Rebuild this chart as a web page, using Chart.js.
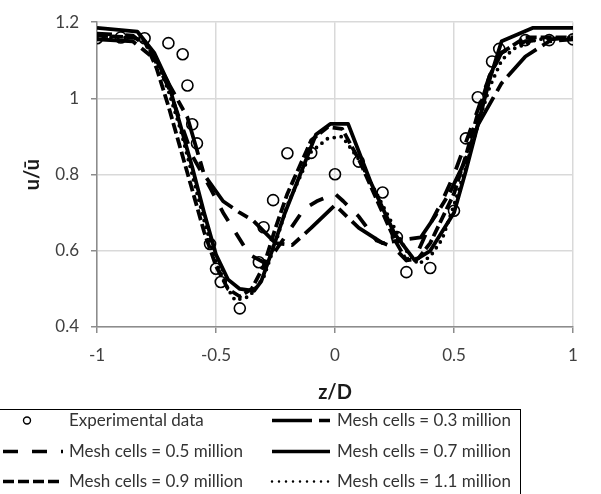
<!DOCTYPE html>
<html>
<head>
<meta charset="utf-8">
<script src="https://cdn.jsdelivr.net/npm/chart.js@4.4.1/dist/chart.umd.min.js"></script>
<style>
  html, body { margin: 0; padding: 0; background: white; }
  canvas { display: block; }
</style>
</head>
<body>
<canvas id="chart" width="601" height="494"></canvas>
<script>
'use strict';

// experimental profile
const expX = [-1, -0.9, -0.8, -0.7, -0.64, -0.62, -0.6, -0.58, -0.525, -0.5, -0.48, -0.4, -0.32, -0.3, -0.26, -0.2, -0.1, 0, 0.1, 0.2, 0.26, 0.3, 0.4, 0.5, 0.55, 0.6, 0.66, 0.69, 0.8, 0.9, 1];
const expY = [1.158, 1.16, 1.158, 1.145, 1.116, 1.034, 0.932, 0.882, 0.618, 0.553, 0.518, 0.449, 0.57, 0.662, 0.733, 0.856, 0.857, 0.801, 0.834, 0.753, 0.636, 0.544, 0.555, 0.705, 0.895, 1.003, 1.097, 1.13, 1.153, 1.153, 1.155];

// CFD profiles, one per mesh
const mesh03X = [-1, -0.85, -0.75, -0.7, -0.62, -0.55, -0.47, -0.4, -0.345, -0.25, -0.18, -0.1, 0, 0.1, 0.2, 0.3, 0.36, 0.42, 0.48, 0.55, 0.6, 0.7, 0.8, 0.9, 1];
const mesh03Y = [1.155, 1.15, 1.1, 1.04, 0.95, 0.8, 0.73, 0.7, 0.68, 0.62, 0.615, 0.66, 0.72, 0.66, 0.62, 0.63, 0.635, 0.69, 0.75, 0.84, 0.93, 1.04, 1.11, 1.15, 1.155];

const mesh05X = [-1, -0.85, -0.78, -0.7, -0.6, -0.52, -0.47, -0.36, -0.3, -0.25, -0.13, -0.077, 0, 0.035, 0.1, 0.175, 0.245, 0.3, 0.35, 0.4, 0.45, 0.5, 0.6, 0.65, 0.7, 0.8, 1];
const mesh05Y = [1.17, 1.165, 1.13, 1.03, 0.85, 0.76, 0.7, 0.59, 0.57, 0.6, 0.71, 0.73, 0.75, 0.73, 0.69, 0.627, 0.61, 0.575, 0.6, 0.67, 0.73, 0.8, 0.97, 1.06, 1.12, 1.15, 1.16];

const mesh07X = [-1, -0.83, -0.76, -0.7, -0.65, -0.6, -0.55, -0.5, -0.45, -0.4, -0.34, -0.31, -0.27, -0.21, -0.08, -0.02, 0.055, 0.15, 0.25, 0.335, 0.4, 0.5, 0.55, 0.6, 0.65, 0.7, 0.83, 1];
const mesh07Y = [1.185, 1.175, 1.12, 1.04, 0.93, 0.82, 0.7, 0.59, 0.525, 0.5, 0.495, 0.52, 0.59, 0.7, 0.905, 0.933, 0.933, 0.78, 0.645, 0.575, 0.6, 0.7, 0.81, 0.93, 1.05, 1.15, 1.185, 1.185];

const mesh09X = [-1, -0.85, -0.8, -0.75, -0.7, -0.65, -0.6, -0.55, -0.5, -0.45, -0.4, -0.35, -0.3, -0.25, -0.2, -0.1, -0.03, 0.03, 0.1, 0.2, 0.25, 0.3, 0.35, 0.4, 0.5, 0.55, 0.6, 0.65, 0.7, 0.8, 1];
const mesh09Y = [1.165, 1.16, 1.15, 1.08, 0.98, 0.87, 0.76, 0.65, 0.56, 0.5, 0.48, 0.5, 0.56, 0.66, 0.75, 0.89, 0.925, 0.92, 0.84, 0.7, 0.63, 0.575, 0.58, 0.62, 0.75, 0.85, 0.96, 1.06, 1.12, 1.16, 1.16];

const mesh11X = [-1, -0.85, -0.8, -0.75, -0.7, -0.65, -0.6, -0.55, -0.5, -0.45, -0.42, -0.36, -0.3, -0.25, -0.2, -0.1, -0.03, 0.03, 0.1, 0.2, 0.3, 0.35, 0.4, 0.45, 0.5, 0.55, 0.6, 0.65, 0.7, 0.75, 0.85, 1];
const mesh11Y = [1.16, 1.16, 1.15, 1.1, 1.02, 0.92, 0.8, 0.68, 0.57, 0.5, 0.47, 0.48, 0.53, 0.62, 0.72, 0.86, 0.895, 0.9, 0.84, 0.72, 0.6, 0.565, 0.585, 0.63, 0.72, 0.82, 0.93, 1.03, 1.1, 1.13, 1.155, 1.16];

const xTicks = [-1, -0.5, 0, 0.5, 1];
const yTicks = [0.4, 0.6, 0.8, 1, 1.2];

const FONT = 'Lato';

function toPoints(xs, ys) {
  return xs.map((x, i) => ({x: x, y: ys[i]}));
}

function meshLine(label, xs, ys, dash, cap) {
  return {
    label: label,
    data: toPoints(xs, ys),
    showLine: true,
    borderColor: '#000',
    backgroundColor: '#000',
    borderWidth: 3.8,
    borderDash: dash,
    borderCapStyle: cap || 'butt',
    borderJoinStyle: 'round',
    pointRadius: 0,
    tension: 0
  };
}

const datasets = [
  {
    label: 'Experimental data',
    data: toPoints(expX, expY),
    showLine: false,
    pointStyle: 'circle',
    pointRadius: 5.5,
    pointBorderWidth: 1.6,
    pointBorderColor: '#000',
    pointBackgroundColor: 'rgba(0,0,0,0)'
  },
  meshLine('Mesh cells = 0.3 million', mesh03X, mesh03Y, [40, 7, 11, 7]),
  meshLine('Mesh cells = 0.5 million', mesh05X, mesh05Y, [15, 14]),
  meshLine('Mesh cells = 0.7 million', mesh07X, mesh07Y, []),
  meshLine('Mesh cells = 0.9 million', mesh09X, mesh09Y, [11, 4]),
  meshLine('Mesh cells = 1.1 million', mesh11X, mesh11Y, [0, 7], 'round')
];

// two-column boxed legend under the axis title
const boxLegend = {
  id: 'boxLegend',
  afterDraw(chart) {
    const ctx = chart.ctx;
    const sets = chart.data.datasets;
    const rows = [420.5, 451.5, 481.5];
    const cols = [
      {from: 3, to: 63, text: 69},
      {from: 272, to: 330, text: 337}
    ];
    ctx.save();
    ctx.strokeStyle = '#000';
    ctx.lineWidth = 1;
    ctx.strokeRect(-1.5, 409.5, 522, 100);

    ctx.font = '17px ' + FONT;
    ctx.textBaseline = 'middle';
    ctx.textAlign = 'left';
    sets.forEach((ds, i) => {
      const col = cols[i % 2];
      const y = rows[Math.floor(i / 2)];
      if (ds.showLine === false) {
        ctx.beginPath();
        ctx.setLineDash([]);
        ctx.lineWidth = 1.4;
        ctx.strokeStyle = '#000';
        ctx.arc(27, y, 3.5, 0, Math.PI * 2);
        ctx.stroke();
      } else {
        ctx.beginPath();
        ctx.setLineDash(ds.borderDash || []);
        ctx.lineCap = ds.borderCapStyle;
        ctx.lineWidth = ds.borderCapStyle === 'round' ? 2.5 : 3.5;
        ctx.strokeStyle = '#000';
        ctx.moveTo(col.from, y);
        ctx.lineTo(col.to, y);
        ctx.stroke();
      }
      ctx.setLineDash([]);
      ctx.fillStyle = '#333';
      ctx.fillText(ds.label, col.text, y);
    });
    ctx.restore();
  }
};

const ctx = document.getElementById('chart').getContext('2d');
const chart = new Chart(ctx, {
  type: 'scatter',
  data: {datasets: datasets},
  options: {
    responsive: false,
    animation: false,
    devicePixelRatio: 1,
    layout: {padding: {left: 0, top: 20, right: 28, bottom: 89}},
    plugins: {
      legend: {display: false},
      tooltip: {enabled: false}
    },
    scales: {
      x: {
        type: 'linear',
        min: -1,
        max: 1,
        afterBuildTicks: (scale) => { scale.ticks = xTicks.map((v) => ({value: v})); },
        afterFit: (scale) => { scale.height = 78; },
        ticks: {
          color: '#404040',
          font: {family: FONT, size: 17},
          padding: 12,
          maxRotation: 0,
          callback: (v) => String(Math.round(v * 10) / 10)
        },
        grid: {color: '#d9d9d9', lineWidth: 1.5, tickColor: '#8c8c8c', tickLength: 6},
        border: {color: '#8c8c8c', width: 1.5},
        title: {
          display: true,
          text: 'z/D',
          color: '#1a1a1a',
          font: {family: FONT, size: 20, weight: 'bold'},
          padding: 0
        }
      },
      y: {
        min: 0.4,
        max: 1.2,
        afterBuildTicks: (scale) => { scale.ticks = yTicks.map((v) => ({value: v})); },
        afterFit: (scale) => { scale.width = 97; },
        ticks: {
          color: '#404040',
          font: {family: FONT, size: 17},
          padding: 12,
          callback: (v) => String(Math.round(v * 10) / 10)
        },
        grid: {color: '#d9d9d9', lineWidth: 1.5, tickColor: '#8c8c8c', tickLength: 6},
        border: {color: '#8c8c8c', width: 1.5},
        title: {
          display: true,
          text: 'u/ū',
          color: '#1a1a1a',
          font: {family: FONT, size: 20, weight: 'bold'},
          padding: {top: 21, bottom: 0}
        }
      }
    }
  },
  plugins: [boxLegend]
});
</script>
</body>
</html>
